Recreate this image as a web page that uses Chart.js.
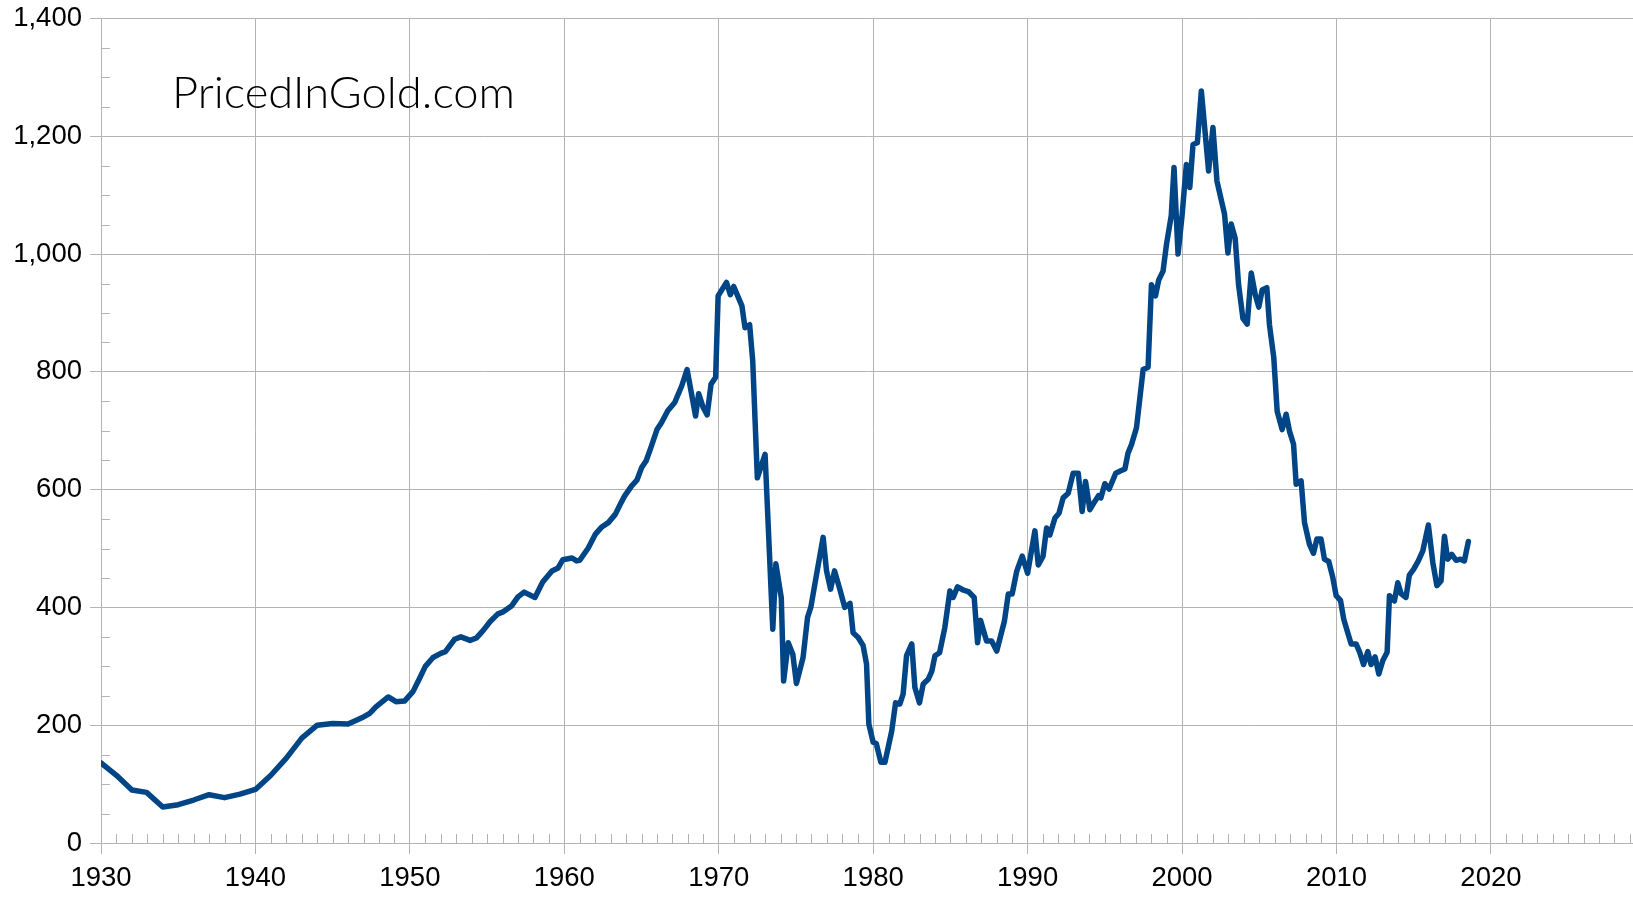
<!DOCTYPE html>
<html>
<head>
<meta charset="utf-8">
<title>Dow in gold</title>
<script src="https://cdn.jsdelivr.net/npm/chart.js@4/dist/chart.umd.min.js"></script>
<style>
  html, body { margin: 0; padding: 0; background: #fff; overflow: hidden; }
  #chart { display: block; }
</style>
</head>
<body>
<canvas id="chart" width="1633" height="897"></canvas>
<script>
// years (decimal) and values
const years = [
  1930, 1931, 1932, 1932.95, 1934, 1935, 1936, 1937, 1938, 1939,
  1940, 1941, 1942, 1943, 1944, 1945, 1946, 1947, 1947.4, 1947.8,
  1948.6, 1949.1, 1949.65, 1950.2, 1950.6, 1951, 1951.5, 1952, 1952.3, 1952.9,
  1953.3, 1953.9, 1954.3, 1954.75, 1955.2, 1955.7, 1956, 1956.6, 1957, 1957.4,
  1958.1, 1958.6, 1959.2, 1959.6, 1959.9, 1960.5, 1960.8, 1961, 1961.55, 1962,
  1962.4, 1962.85, 1963.3, 1963.6, 1963.9, 1964.35, 1964.7, 1965, 1965.3, 1965.6,
  1966, 1966.3, 1966.7, 1967.15, 1967.6, 1967.95, 1968.5, 1968.7, 1969, 1969.25,
  1969.5, 1969.8, 1969.96, 1970.5, 1970.75, 1970.97, 1971.5, 1971.7, 1972, 1972.2,
  1972.5, 1973, 1973.5, 1973.7, 1974.05, 1974.2, 1974.5, 1974.8, 1975.03, 1975.46,
  1975.75, 1975.96, 1976.3, 1976.76, 1976.98, 1977.24, 1977.5, 1977.84, 1978.16, 1978.5,
  1978.7, 1979.03, 1979.35, 1979.57, 1979.72, 1980, 1980.2, 1980.5, 1980.76, 1981.2,
  1981.45, 1981.73, 1981.94, 1982.16, 1982.5, 1982.7, 1983, 1983.24, 1983.56, 1983.8,
  1984, 1984.3, 1984.64, 1984.97, 1985.18, 1985.46, 1985.8, 1986.16, 1986.54, 1986.76,
  1986.95, 1987.34, 1987.67, 1988, 1988.5, 1988.75, 1989, 1989.3, 1989.65, 1990,
  1990.47, 1990.69, 1991, 1991.23, 1991.44, 1991.77, 1992.03, 1992.3, 1992.63, 1992.95,
  1993.28, 1993.53, 1993.75, 1994.03, 1994.35, 1994.6, 1994.74, 1995, 1995.28, 1995.71,
  1996.03, 1996.3, 1996.5, 1996.72, 1997.05, 1997.48, 1997.8, 1998.02, 1998.28, 1998.49,
  1998.77, 1998.99, 1999.3, 1999.48, 1999.74, 2000, 2000.28, 2000.5, 2000.71, 2000.99,
  2001.25, 2001.72, 2002, 2002.26, 2002.75, 2002.97, 2003.18, 2003.44, 2003.66, 2003.94,
  2004.22, 2004.48, 2004.74, 2004.97, 2005.19, 2005.49, 2005.66, 2005.94, 2006.16, 2006.48,
  2006.74, 2006.96, 2007.22, 2007.39, 2007.71, 2007.93, 2008.25, 2008.51, 2008.73, 2009,
  2009.22, 2009.5, 2009.76, 2009.98, 2010.26, 2010.47, 2010.73, 2010.95, 2011.27, 2011.5,
  2011.75, 2012.03, 2012.24, 2012.5, 2012.74, 2013, 2013.28, 2013.43, 2013.75, 2013.97,
  2014.19, 2014.5, 2014.72, 2015, 2015.3, 2015.59, 2015.95, 2016.24, 2016.5, 2016.77,
  2016.99, 2017.2, 2017.46, 2017.75, 2018.03, 2018.28, 2018.54
];
const values = [
  136, 115, 90, 86, 61, 65, 73, 82, 77, 83,
  91, 115, 144, 178, 200, 203, 202, 214, 220, 231,
  248, 240, 241, 257, 278, 300, 315, 322, 325, 346,
  350, 344, 348, 361, 376, 389, 392, 403, 418, 426,
  417, 443, 462, 467, 481, 484, 479, 480, 501, 524,
  536, 544, 558, 574, 589, 606, 616, 637, 649, 671,
  702, 714, 734, 748, 776, 804, 725, 763, 739, 727,
  779, 791, 929, 952, 931, 945, 912, 875, 880, 819,
  620, 660, 363, 474, 416, 275, 340, 320, 271, 315,
  383, 400, 451, 519, 462, 431, 462, 431, 400, 407,
  357, 349, 335, 304, 202, 171, 169, 137, 137, 190,
  238, 236, 253, 318, 338, 264, 238, 270, 278, 292,
  318, 323, 366, 428, 417, 435, 430, 427, 417, 340,
  378, 343, 343, 326, 377, 423, 423, 462, 487, 458,
  530, 472, 487, 535, 523, 552, 560, 586, 594, 628,
  628, 563, 614, 566, 580, 590, 586, 610, 601, 628,
  632, 635, 662, 676, 705, 804, 808, 948, 929, 956,
  971, 1016, 1065, 1147, 1000, 1065, 1152, 1113, 1186, 1189,
  1277, 1141, 1215, 1124, 1068, 1002, 1051, 1027, 948, 891,
  881, 968, 931, 910, 939, 943, 880, 824, 733, 702,
  728, 699, 677, 609, 615, 544, 507, 492, 516, 516,
  482, 478, 451, 420, 412, 380, 357, 338, 338, 324,
  303, 325, 303, 316, 287, 310, 324, 420, 411, 442,
  423, 417, 455, 465, 479, 496, 540, 476, 437, 445,
  521, 482, 490, 480, 482, 479, 512
];

const xTicks = [1930, 1940, 1950, 1960, 1970, 1980, 1990, 2000, 2010, 2020];
const yTicks = [0, 200, 400, 600, 800, 1000, 1200, 1400];
const watermark = 'PricedInGold.com';

const gridColor = '#b3b3b3';
const tickFont = { family: "'Liberation Sans', Arial, sans-serif", size: 27.5 };

// small inward ticks: every year on x, every 50 on y
const minorTicks = {
    id: 'minorTicks',
    beforeDatasetsDraw(chart) {
        const { ctx, chartArea, scales: { x, y } } = chart;
        ctx.save();
        ctx.strokeStyle = gridColor;
        ctx.lineWidth = 1;
        ctx.beginPath();
        for (let yr = 1931; yr <= x.max; yr++) {
            if (yr % 10 === 0) continue;
            const px = Math.round(x.getPixelForValue(yr)) + 0.5;
            ctx.moveTo(px, chartArea.bottom);
            ctx.lineTo(px, chartArea.bottom - 9);
        }
        for (let v = 50; v < 1400; v += 50) {
            if (v % 200 === 0) continue;
            const py = Math.round(y.getPixelForValue(v)) + 0.5;
            ctx.moveTo(chartArea.left, py);
            ctx.lineTo(chartArea.left + 9, py);
        }
        ctx.stroke();
        ctx.restore();
    }
};

const logo = {
    id: 'logo',
    afterDraw(chart) {
        const ctx = chart.ctx;
        ctx.save();
        ctx.font = "300 44px Lato, 'DejaVu Sans', sans-serif";
        ctx.fillStyle = '#000';
        ctx.textBaseline = 'alphabetic';
        const w = ctx.measureText(watermark).width;
        ctx.translate(172, 108);
        ctx.scale(343 / w, 1);
        ctx.fillText(watermark, 0, 0);
        ctx.restore();
    }
};

new Chart(document.getElementById('chart'), {
    type: 'line',
    data: {
        datasets: [{
            data: years.map((yr, i) => ({ x: yr, y: values[i] })),
            borderColor: '#004586',
            borderWidth: 5.5,
            pointRadius: 0,
            tension: 0,
            fill: false,
            borderJoinStyle: 'round',
            borderCapStyle: 'round'
        }]
    },
    options: {
        responsive: false,
        animation: false,
        devicePixelRatio: 1,
        layout: { padding: { top: 18.5, right: 0, bottom: 0, left: 0 } },
        plugins: {
            legend: { display: false },
            tooltip: { enabled: false }
        },
        scales: {
            x: {
                type: 'linear',
                min: 1930,
                max: 2029.2,
                afterBuildTicks: s => { s.ticks = xTicks.map(v => ({ value: v })); },
                afterFit: s => { s.height = 54; s.paddingRight = 0; },
                grid: { color: gridColor, tickColor: gridColor, tickLength: 11, lineWidth: 1 },
                border: { color: gridColor },
                ticks: {
                    font: tickFont,
                    color: '#000',
                    padding: 7.5,
                    maxRotation: 0,
                    autoSkip: false,
                    callback: v => String(v)
                }
            },
            y: {
                min: 0,
                max: 1400,
                afterBuildTicks: s => { s.ticks = yTicks.map(v => ({ value: v })); },
                afterFit: s => { s.width = 101; s.paddingTop = 0; s.paddingBottom = 0; },
                grid: { color: gridColor, tickColor: gridColor, tickLength: 11, lineWidth: 1 },
                border: { color: gridColor },
                ticks: {
                    font: tickFont,
                    color: '#000',
                    padding: 8,
                    callback: v => v.toLocaleString('en-US')
                }
            }
        }
    },
    plugins: [minorTicks, logo]
});
</script>
</body>
</html>
